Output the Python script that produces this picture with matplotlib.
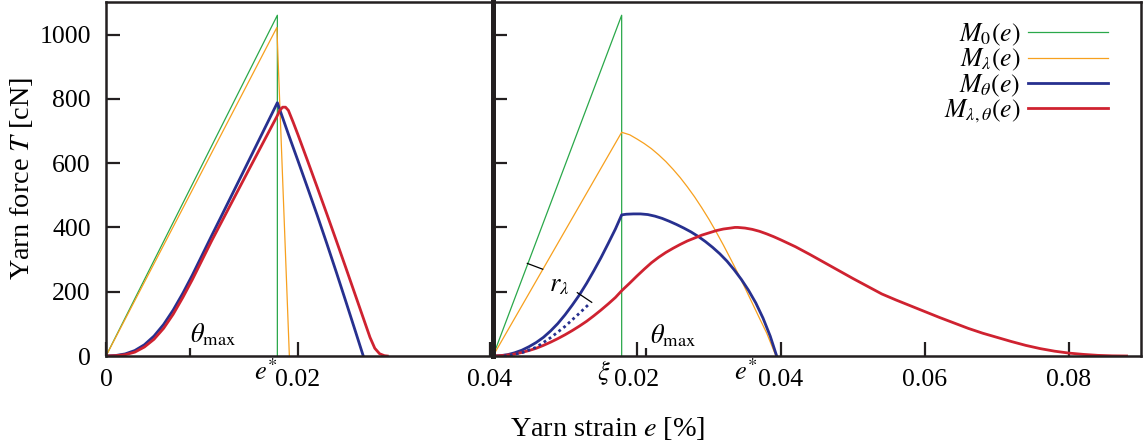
import matplotlib.pyplot as plt

plt.rcParams['font.family'] = ['Liberation Serif', 'DejaVu Serif']
plt.rcParams['mathtext.fontset'] = 'stix'

GREEN = '#2aa84a'
ORANGE = '#f7a01e'
BLUE = '#27308f'
RED = '#cf2230'

# ---- left panel: e* = 0.01785 ----
l_m0_x = [0, 0.01785, 0.01785]
l_m0_y = [0, 1060, 0]
l_ml_x = [0, 0.0178, 0.0191]
l_ml_y = [0, 1022, 0]
l_mt_x = [0, 0.001, 0.002, 0.003, 0.004, 0.005, 0.006, 0.007, 0.008, 0.009, 0.010, 0.011,
          0.012, 0.0143, 0.01785,
          0.019, 0.020, 0.021, 0.022, 0.023, 0.024, 0.025, 0.026, 0.0268]
l_mt_y = [0, 1.5, 6.5, 17, 35, 62, 98, 143, 195, 252, 313, 374,
          434, 573, 788,
          690, 607, 523, 438, 350, 260, 168, 75, 0]
l_mlt_x = [0, 0.001, 0.002, 0.003, 0.004, 0.005, 0.006, 0.007, 0.008, 0.009, 0.010, 0.011,
           0.012, 0.0148, 0.0178, 0.0181, 0.0184, 0.0187,
           0.019, 0.0195, 0.020, 0.021, 0.022, 0.023, 0.024, 0.025, 0.026, 0.027,
           0.0275, 0.028, 0.0285, 0.029, 0.0293]
l_mlt_y = [0, 1, 4, 12, 28, 52, 86, 130, 182, 238, 298, 358,
           415, 575, 745, 764, 774, 774,
           764, 727, 688, 607, 525, 442, 358, 273, 187, 101,
           58, 24, 7, 1, 0]

# ---- right panel: xi = 0.01787 ----
r_m0_x = [0, 0.01787, 0.01787]
r_m0_y = [0, 1060, 0]
r_ml_x = [0, 0.01787, 0.019, 0.020, 0.021, 0.022, 0.023, 0.024, 0.025, 0.026, 0.027,
          0.028, 0.029, 0.030, 0.031, 0.032, 0.033, 0.034, 0.035, 0.036, 0.037, 0.038, 0.0393]
r_ml_y = [0, 696, 688, 675, 661, 645, 626, 605, 581, 555, 526,
          495, 461, 425, 386, 345, 302, 258, 212, 165, 118, 72, 0]
r_mt_x = [0, 0.001, 0.002, 0.003, 0.004, 0.005, 0.006, 0.007, 0.008, 0.009, 0.010,
          0.011, 0.012, 0.013, 0.014, 0.015, 0.016, 0.017, 0.01787,
          0.0185, 0.0195, 0.0205, 0.0215, 0.0225, 0.0235, 0.0245, 0.0255, 0.0265, 0.0275,
          0.0285, 0.0295, 0.0305, 0.0315, 0.0325, 0.0335, 0.0345, 0.0355, 0.0365, 0.0375,
          0.0385, 0.0394]
r_mt_y = [0, 1, 4, 10, 18, 29, 42, 58, 78, 101, 128,
          158, 190, 226, 265, 306, 350, 395, 439,
          441, 442, 442, 440, 435, 428, 419, 409, 398, 386,
          372, 356, 338, 318, 295, 268, 238, 204, 165, 118,
          62, 0]
r_mlt_x = [0, 0.001, 0.002, 0.003, 0.004, 0.005, 0.006, 0.007, 0.008, 0.009, 0.010,
           0.011, 0.012, 0.013, 0.014, 0.015, 0.016, 0.017, 0.01787, 0.019, 0.020,
           0.021, 0.022, 0.023, 0.024, 0.025, 0.026, 0.027, 0.028, 0.029, 0.030,
           0.031, 0.032, 0.033, 0.0336, 0.034, 0.035, 0.036, 0.037, 0.038, 0.039,
           0.040, 0.042, 0.044, 0.046, 0.048, 0.050, 0.052, 0.054, 0.056, 0.058,
           0.060, 0.062, 0.064, 0.066, 0.068, 0.070, 0.072, 0.074, 0.076, 0.078,
           0.080, 0.082, 0.084, 0.086, 0.088]
r_mlt_y = [0, 1, 3, 6, 11, 17, 24, 33, 43, 54, 66,
           79, 93, 108, 125, 143, 162, 182, 203, 227, 249,
           270, 290, 307, 322, 335, 347, 358, 367, 376, 383,
           390, 395, 398, 400, 400, 398, 394, 388, 380, 371,
           361, 340, 316, 291, 266, 241, 217, 193, 174, 156,
           138, 120, 103, 86, 71, 58, 45, 33, 23, 15,
           9, 5, 2, 0.5, 0]
# M_theta without the lambda shift (dotted)
r_dot_x = [0.0015, 0.004, 0.006, 0.008, 0.010, 0.012, 0.0135]
r_dot_y = [0, 10, 27, 57, 92, 133, 165]

# r_lambda distance marks
rl_mark1_x = [0.00477, 0.0069]
rl_mark1_y = [288, 270]
rl_mark2_x = [0.01171, 0.01371]
rl_mark2_y = [197, 167]

theta_left = 0.00875
theta_right = 0.0213
e_star = 0.01785

fig = plt.figure(figsize=(11.45, 4.48), dpi=100)
ax1 = fig.add_axes([106 / 1145, 92 / 448, 384 / 1145, 353.6 / 448])
ax2 = fig.add_axes([493 / 1145, 92 / 448, 648 / 1145, 353.6 / 448])

labels = [r'$M_0(e)$', r'$M_\lambda(e)$', r'$M_\theta(e)$', r'$M_{\lambda,\theta}(e)$']

ax1.plot(l_m0_x, l_m0_y, color=GREEN, lw=0.9)
ax1.plot(l_ml_x, l_ml_y, color=ORANGE, lw=0.9)
ax1.plot(l_mt_x, l_mt_y, color=BLUE, lw=2.0)
ax1.plot(l_mlt_x, l_mlt_y, color=RED, lw=2.0)

ax2.plot(r_m0_x, r_m0_y, color=GREEN, lw=0.9, label=labels[0])
ax2.plot(r_ml_x, r_ml_y, color=ORANGE, lw=0.9, label=labels[1])
ax2.plot(r_mt_x, r_mt_y, color=BLUE, lw=2.0, label=labels[2])
ax2.plot(r_mlt_x, r_mlt_y, color=RED, lw=2.0, label=labels[3])
ax2.plot(r_dot_x, r_dot_y, color=BLUE, lw=2.0, ls=(0, (1, 1.2)))
ax2.plot(rl_mark1_x, rl_mark1_y, color='black', lw=0.9)
ax2.plot(rl_mark2_x, rl_mark2_y, color='black', lw=0.9)
ax2.text(0.0078, 202, r'$r_\lambda$', fontsize=19)

for ax in (ax1, ax2):
    ax.set_ylim(0, 1100)
    ax.set_yticks([0, 200, 400, 600, 800, 1000])
    for s in ax.spines.values():
        s.set_linewidth(1.8)
        s.set_color('#231f20')
    ax.tick_params(which='major', direction='in', length=10, width=1.6, labelsize=18.5,
                   color='#231f20', top=False, right=False)
    ax.tick_params(which='minor', direction='in', length=6, width=1.6,
                   color='#231f20', top=False, right=False)
    ax.tick_params(axis='x', pad=9)
    ax.tick_params(axis='y', pad=11)

ax1.set_xlim(0, 0.04)
ax1.set_xticks([0, 0.02, 0.04])
ax1.set_xticklabels(['0', '0.02', '0.04'])
ax1.set_xticks([theta_left], minor=True)
ax1.spines['right'].set_visible(False)

ax2.set_xlim(0, 0.09)
ax2.set_xticks([0, 0.02, 0.04, 0.06, 0.08])
ax2.set_xticklabels(['', '0.02', '0.04', '0.06', '0.08'])
ax2.set_xticks([theta_right], minor=True)
ax2.set_yticklabels([])
ax2.spines['left'].set_linewidth(3.6)

# theta_max markers
ax1.text(theta_left, 43, r'$\theta_{\mathrm{max}}$', fontsize=19)
ax2.text(0.0218, 40, r'$\theta_{\mathrm{max}}$', fontsize=19)

# labels under the strain axis
lab_tr1 = ax1.get_xaxis_transform()
lab_tr2 = ax2.get_xaxis_transform()
ax1.text(e_star, -0.068, r'$e^{*}$', transform=lab_tr1, ha='right', va='baseline', fontsize=19)
ax2.text(0.0164, -0.068, r'$\xi$', transform=lab_tr2, ha='right', va='baseline', fontsize=19)
ax2.text(0.0367, -0.068, r'$e^{*}$', transform=lab_tr2, ha='right', va='baseline', fontsize=19)

leg = ax2.legend(loc='upper right', bbox_to_anchor=(0.949, 0.945), markerfirst=False,
                 frameon=False, fontsize=18.5, handlelength=3.1, handletextpad=0.3,
                 labelspacing=-0.04, borderaxespad=0, borderpad=0)

fig.text(22 / 1145, 1 - 178.5 / 448, r'Yarn force $T$ [cN]', rotation=90,
         ha='center', va='center', fontsize=20.3)
fig.text(608 / 1145, 1 - 428.5 / 448, r'Yarn strain $e$ [%]',
         ha='center', va='center', fontsize=20.3)

fig.savefig('out.png', dpi=100)
